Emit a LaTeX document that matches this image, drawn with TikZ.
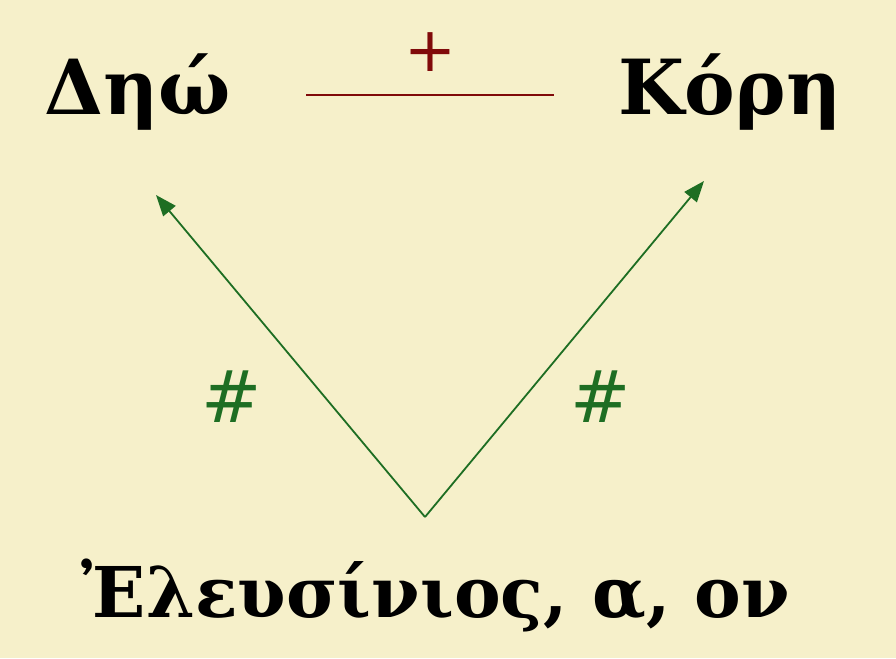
\documentclass[tikz,border=0pt]{standalone}
\usepackage{fontspec}
\setmainfont{DejaVu Serif}
\newfontfamily\signfont{DejaVu Sans}
\usepackage{tikz}
\usetikzlibrary{positioning,arrows.meta}
\definecolor{parchment}{RGB}{246,240,202}
\definecolor{signred}{RGB}{128,10,10}
\definecolor{signgreen}{RGB}{30,110,35}

\begin{document}
\begin{tikzpicture}[x=1pt,y=-1pt,
  word/.style={font=\fontsize{76}{84}\selectfont\bfseries,anchor=base,inner sep=0pt},
  sign/.style={font=\fontsize{72}{80}\selectfont\signfont,inner sep=0pt}]
  % background
  \fill[parchment] (0,0) rectangle (896,658);
  \useasboundingbox (0,0) rectangle (896,658);
  % words
  \node[word] (demeter) at (138,115) {Δηώ};
  \node[word] (kore) at (730,115) {Κόρη};
  \node[word,font=\fontsize{70}{80}\selectfont\bfseries] (eleusinios) at (436,617) {Ἐλευσίνιος, α, ον};
  % relation between the two
  \coordinate (lineL) at (306,95);
  \coordinate (lineR) at (554,95);
  \draw[signred,line width=1.6pt] (lineL) -- (lineR);
  \node[sign,signred,font=\fontsize{62}{70}\selectfont\signfont] (plus) at (430,52) {+};
  % derivation arrows
  \coordinate (vertex) at (425,517);
  \coordinate (tipL) at (156,195);
  \coordinate (tipR) at (704,181);
  \draw[signgreen,line width=1.8pt,-{Triangle[length=21pt,width=16pt]}] (vertex) -- (tipL);
  \draw[signgreen,line width=1.8pt,-{Triangle[length=21pt,width=16pt]}] (vertex) -- (tipR);
  \node[sign,signgreen] (hashL) at (232,397) {\#};
  \node[sign,signgreen] (hashR) at (601,397) {\#};
\end{tikzpicture}
\end{document}
